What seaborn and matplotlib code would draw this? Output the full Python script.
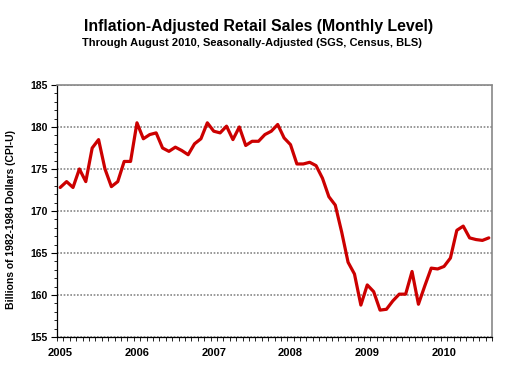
import numpy as np
import pandas as pd
import matplotlib
matplotlib.use("Agg")
import matplotlib.pyplot as plt
import seaborn as sns

# === Data (monthly, Jan 2005 - Aug 2010), billions of 1982-1984 dollars
years = ["2005", "2006", "2007", "2008", "2009", "2010"]
sales_2005 = [172.8, 173.5, 172.8, 175.0, 173.5, 177.5, 178.5, 175.0, 172.9, 173.5, 175.9, 175.9]
sales_2006 = [180.5, 178.6, 179.1, 179.3, 177.5, 177.1, 177.6, 177.2, 176.7, 178.0, 178.6, 180.5]
sales_2007 = [179.5, 179.3, 180.1, 178.5, 180.0, 177.8, 178.3, 178.3, 179.1, 179.5, 180.3, 178.7]
sales_2008 = [177.9, 175.6, 175.6, 175.8, 175.4, 173.9, 171.7, 170.7, 167.5, 163.9, 162.5, 158.8]
sales_2009 = [161.2, 160.4, 158.2, 158.3, 159.3, 160.1, 160.1, 162.8, 158.9, 161.1, 163.2, 163.1]
sales_2010 = [163.4, 164.4, 167.7, 168.2, 166.8, 166.6, 166.5, 166.8]

values = sales_2005 + sales_2006 + sales_2007 + sales_2008 + sales_2009 + sales_2010
df = pd.DataFrame({"month": np.arange(len(values)), "sales": values})

# === Style
sns.set_style("white")
plt.rcParams["font.family"] = ["Liberation Sans", "DejaVu Sans"]
plt.rcParams["font.weight"] = "bold"
for key in ["text.color", "axes.labelcolor", "xtick.color", "ytick.color"]:
    plt.rcParams[key] = "black"

fig = plt.figure(figsize=(5.08, 3.81), dpi=100)
ax = fig.add_axes([57 / 508, 1 - 337 / 381, (492 - 57) / 508, (337 - 85) / 381])

sns.lineplot(data=df, x="month", y="sales", ax=ax, color="#cc0000", linewidth=2.3)

# === Axes
ax.set_xlim(-0.5, len(values) - 0.5)
ax.set_ylim(155, 185)
ax.set_yticks(np.arange(155, 186, 5))
ax.set_yticks(np.arange(155, 186, 1), minor=True)
ax.set_xticks(np.arange(0, len(values), 12))
ax.set_xticklabels(years)
ax.set_xticks(np.arange(-0.5, len(values), 1), minor=True)

ax.tick_params(axis="x", which="major", length=0, pad=8, labelsize=8)
ax.tick_params(axis="x", which="minor", length=3, width=0.6, color="black", direction="out", bottom=True)
ax.tick_params(axis="y", which="major", length=4, width=0.8, color="black", direction="out", left=True, labelsize=7.5, pad=3)
ax.tick_params(axis="y", which="minor", length=2, width=0.6, color="black", direction="out", left=True)

ax.grid(axis="y", which="major", color="#888888", linestyle=(0, (1, 1)), linewidth=1.2)
ax.grid(axis="x", visible=False)

for side in ["left", "bottom"]:
    ax.spines[side].set_color("black")
    ax.spines[side].set_linewidth(0.9)
for side in ["top", "right"]:
    ax.spines[side].set_color("#888888")
    ax.spines[side].set_linestyle((0, (1, 1)))
    ax.spines[side].set_linewidth(1.2)

ax.set_xlabel("")
ax.set_ylabel("Billions of 1982-1984 Dollars (CPI-U)", fontsize=7.5, fontweight="bold")
ax.yaxis.set_label_coords(-0.094, 0.465)

# === Titles
fig.text(0.508, 1 - 27 / 381, "Inflation-Adjusted Retail Sales (Monthly Level)",
         ha="center", va="center", fontsize=11.4, fontweight="bold")
fig.text(0.496, 1 - 43 / 381, "Through August 2010, Seasonally-Adjusted (SGS, Census, BLS)",
         ha="center", va="center", fontsize=8, fontweight="bold")

fig.savefig("out.png", dpi=100)
plt.close(fig)
